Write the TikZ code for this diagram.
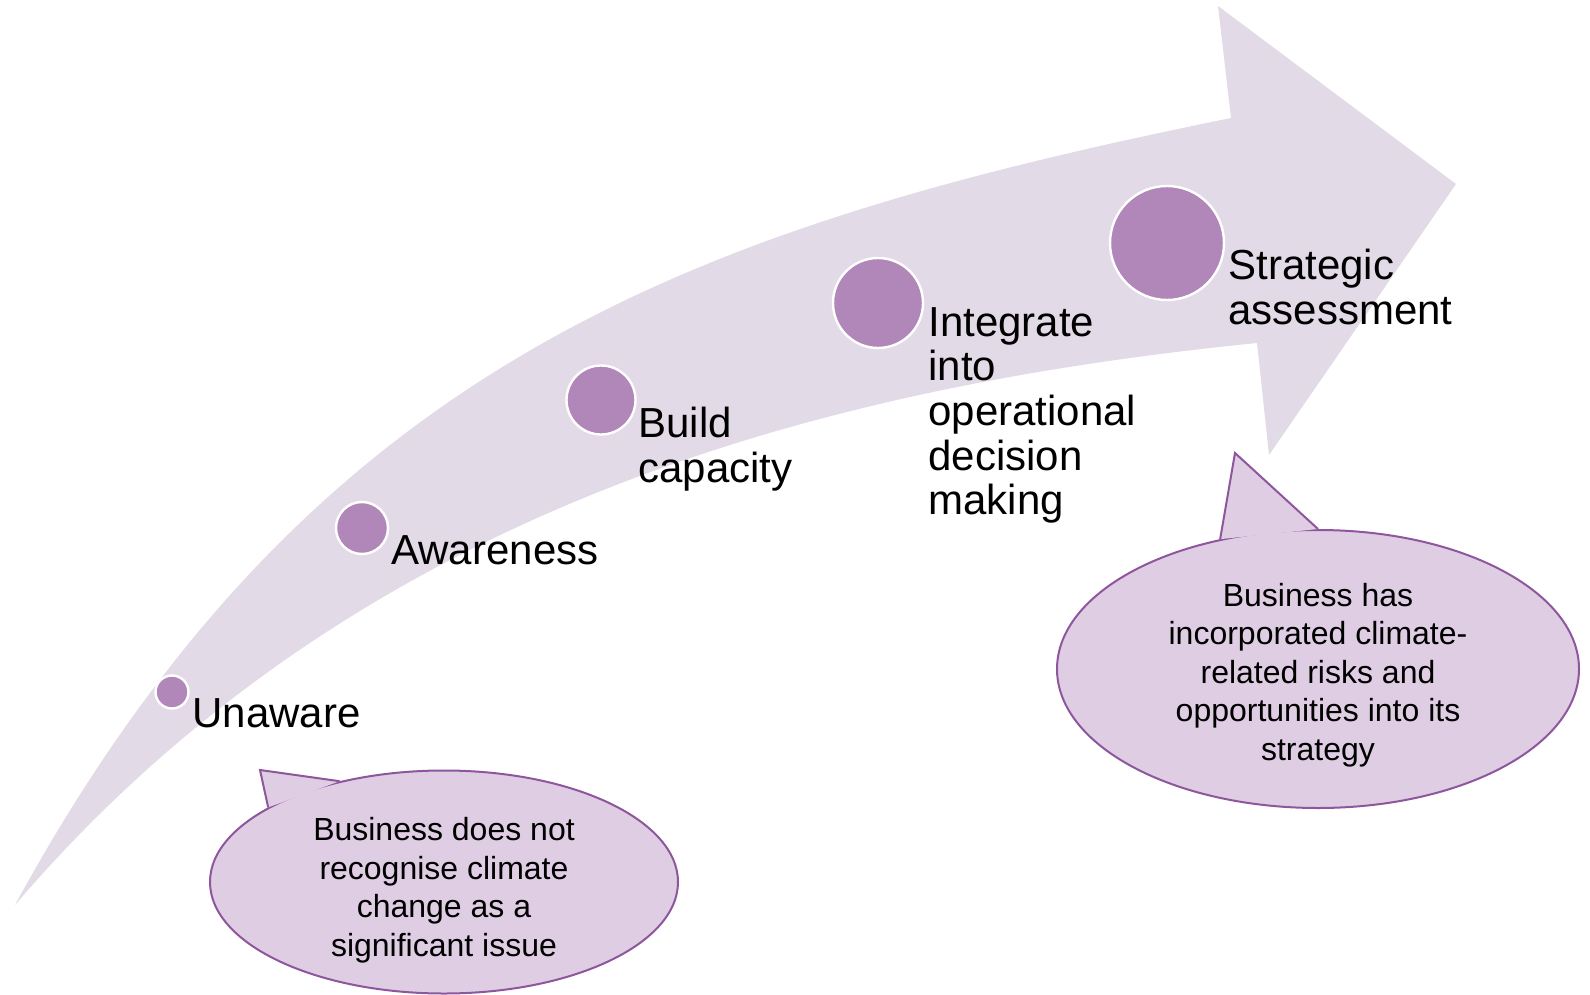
\documentclass[tikz,border=0pt]{standalone}
\usepackage{fontspec}
\setmainfont{Liberation Sans}
\usetikzlibrary{shapes.geometric}
\definecolor{bandfill}{RGB}{227,218,231}
\definecolor{dotfill}{RGB}{176,135,184}
\definecolor{callfill}{RGB}{223,205,227}
\definecolor{callline}{RGB}{142,86,156}
\begin{document}
\begin{tikzpicture}[x=0.5pt,y=-0.5pt,
  stage/.style={circle, fill=dotfill, draw=white, line width=1.2pt, inner sep=0pt},
  lbl/.style={anchor=north west, inner sep=0pt, align=left, font=\fontsize{21}{22.3}\selectfont},
  callout/.style={ellipse, fill=callfill, draw=callline, line width=1pt, inner sep=0pt},
  ctext/.style={inner sep=0pt, align=center, font=\fontsize{16}{19.25}\selectfont}]
\useasboundingbox (0,0) rectangle (1590,995);
% curved arrow band
\fill[bandfill] (15,905) .. controls (313,359) and (700,226) .. (1231,118)
  -- (1218,6) -- (1456,184) -- (1269,455) -- (1257,343)
  .. controls (840,385) and (362,499) .. (15,905) -- cycle;
% stage dots
\node[stage, minimum size=16.5pt] (s1) at (172,692) {};
\node[stage, minimum size=26pt] (s2) at (362,528) {};
\node[stage, minimum size=34.5pt] (s3) at (601,400) {};
\node[stage, minimum size=45pt] (s4) at (878,303) {};
\node[stage, minimum size=57pt] (s5) at (1167,243) {};
% labels
\node[lbl] (l1) at (192,698) {Unaware};
\node[lbl] (l2) at (391,535) {Awareness};
\node[lbl] (l3) at (638,407) {Build\\capacity};
\node[lbl] (l4) at (928,307) {Integrate\\into\\operational\\decision\\making};
\node[lbl] (l5) at (1228,249) {Strategic\\assessment};
% callout 1
\node[callout, minimum width=234pt, minimum height=111.5pt] (c1) at (444,882) {};
\coordinate (t1) at (260,770);
\fill[callfill] (c1.157.9) -- (t1) -- (c1.136.7) -- cycle;
\draw[callline, line width=1pt] (c1.157.9) -- (t1) -- (c1.136.7);
\node[ctext] (c1t) at (444,890)
  {Business does not\\recognise climate\\change as a\\significant issue};
% callout 2
\node[callout, minimum width=261pt, minimum height=139pt] (c2) at (1318,669) {};
\coordinate (t2) at (1235,453);
\fill[callfill] (c2.127.7) -- (t2) -- (c2.90.8) -- cycle;
\draw[callline, line width=1pt] (c2.127.7) -- (t2) -- (c2.90.8);
\node[ctext] (c2t) at (1318,675)
  {Business has\\incorporated climate-\\related risks and\\opportunities into its\\strategy};
\end{tikzpicture}
\end{document}
